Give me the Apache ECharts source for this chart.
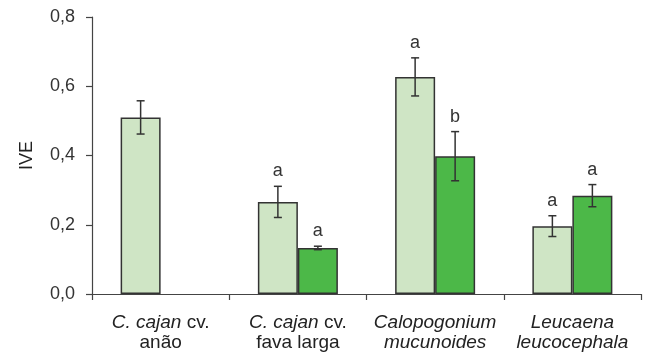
<!DOCTYPE html>
<html><head><meta charset="utf-8">
<script src="https://cdn.jsdelivr.net/npm/echarts@6/dist/echarts.min.js"></script>
<style>html,body{margin:0;padding:0;background:#fff}#c{width:648px;height:353px}</style>
</head><body><div id="c"></div>
<script>
const categories = ['{i|C. cajan} cv.\nanão', '{i|C. cajan} cv.\nfava larga', '{i|Calopogonium}\n{i|mucunoides}', '{i|Leucaena}\n{i|leucocephala}'];
const yTicks = [0, 0.2, 0.4, 0.6, 0.8];
const lightValues = [0.51, 0.266, 0.627, 0.196];
const lightErrors = [0.048, 0.045, 0.055, 0.030];
const lightLetters = ['', 'a', 'a', 'a'];
const darkValues = [null, 0.133, 0.398, 0.284];
const darkErrors = [null, 0.005, 0.071, 0.032];
const darkLetters = ['', 'a', 'b', 'a'];

const FONT = '"Liberation Sans", Arial, sans-serif';
const BAR_W = 40;

function errData(vals, errs, letters) {
  const out = [];
  vals.forEach((v, i) => { if (v != null) out.push([i, v, errs[i], letters[i]]); });
  return out;
}
function errRender(offset) {
  return function (params, api) {
    const i = api.value(0), v = api.value(1), e = api.value(2);
    const letter = api.value(3);
    const top = api.coord([i, v + e]);
    const bot = api.coord([i, v - e]);
    const x = top[0] + offset;
    const cap = 4;
    const st = { stroke: '#333', lineWidth: 1.5 };
    const children = [
      { type: 'line', shape: { x1: x, y1: top[1], x2: x, y2: bot[1] }, style: st },
      { type: 'line', shape: { x1: x - cap, y1: top[1], x2: x + cap, y2: top[1] }, style: st },
      { type: 'line', shape: { x1: x - cap, y1: bot[1], x2: x + cap, y2: bot[1] }, style: st }
    ];
    if (letter) {
      children.push({ type: 'text', style: { text: letter, x: x, y: top[1] - 15, align: 'center', verticalAlign: 'middle', fill: '#333', font: '18px ' + FONT } });
    }
    return { type: 'group', children: children };
  };
}

const chart = echarts.init(document.getElementById('c'), null, { renderer: 'canvas' });
chart.setOption({
  animation: false,
  textStyle: { fontFamily: FONT },
  grid: { left: 92, right: 7, top: 17, bottom: 59, containLabel: false, outerBoundsMode: 'none' },
  xAxis: {
    type: 'category',
    data: categories,
    axisLine: { lineStyle: { color: '#444', width: 1.2 } },
    axisTick: { show: true, length: 6, lineStyle: { color: '#444', width: 1.2 } },
    axisLabel: {
      interval: 0, margin: 19, fontSize: 19, color: '#222', lineHeight: 20,
      rich: { i: { fontStyle: 'italic', fontSize: 19, color: '#222', lineHeight: 20, fontFamily: FONT } }
    }
  },
  yAxis: {
    type: 'value', min: 0, max: 0.8, interval: 0.2,
    name: 'IVE', nameLocation: 'middle', nameGap: 56, nameRotate: 90,
    nameTextStyle: { fontSize: 18, color: '#222' },
    axisLine: { show: true, lineStyle: { color: '#444', width: 1.2 } },
    axisTick: { show: true, length: 6, lineStyle: { color: '#444', width: 1.2 } },
    splitLine: { show: false },
    axisLabel: { fontSize: 18, color: '#333', margin: 17, formatter: v => v.toFixed(1).replace('.', ',') }
  },
  series: [
    { type: 'bar', data: lightValues, barWidth: BAR_W, barGap: '0%',
      itemStyle: { color: '#cfe5c5', borderColor: '#333', borderWidth: 1.5 } },
    { type: 'bar', data: darkValues, barWidth: BAR_W, barGap: '0%',
      itemStyle: { color: '#4cb848', borderColor: '#333', borderWidth: 1.5 } },
    { type: 'custom', renderItem: errRender(-BAR_W / 2), data: errData(lightValues, lightErrors, lightLetters), encode: { x: 0, y: 1 }, z: 5 },
    { type: 'custom', renderItem: errRender(BAR_W / 2), data: errData(darkValues, darkErrors, darkLetters), encode: { x: 0, y: 1 }, z: 5 }
  ]
});
</script></body></html>
